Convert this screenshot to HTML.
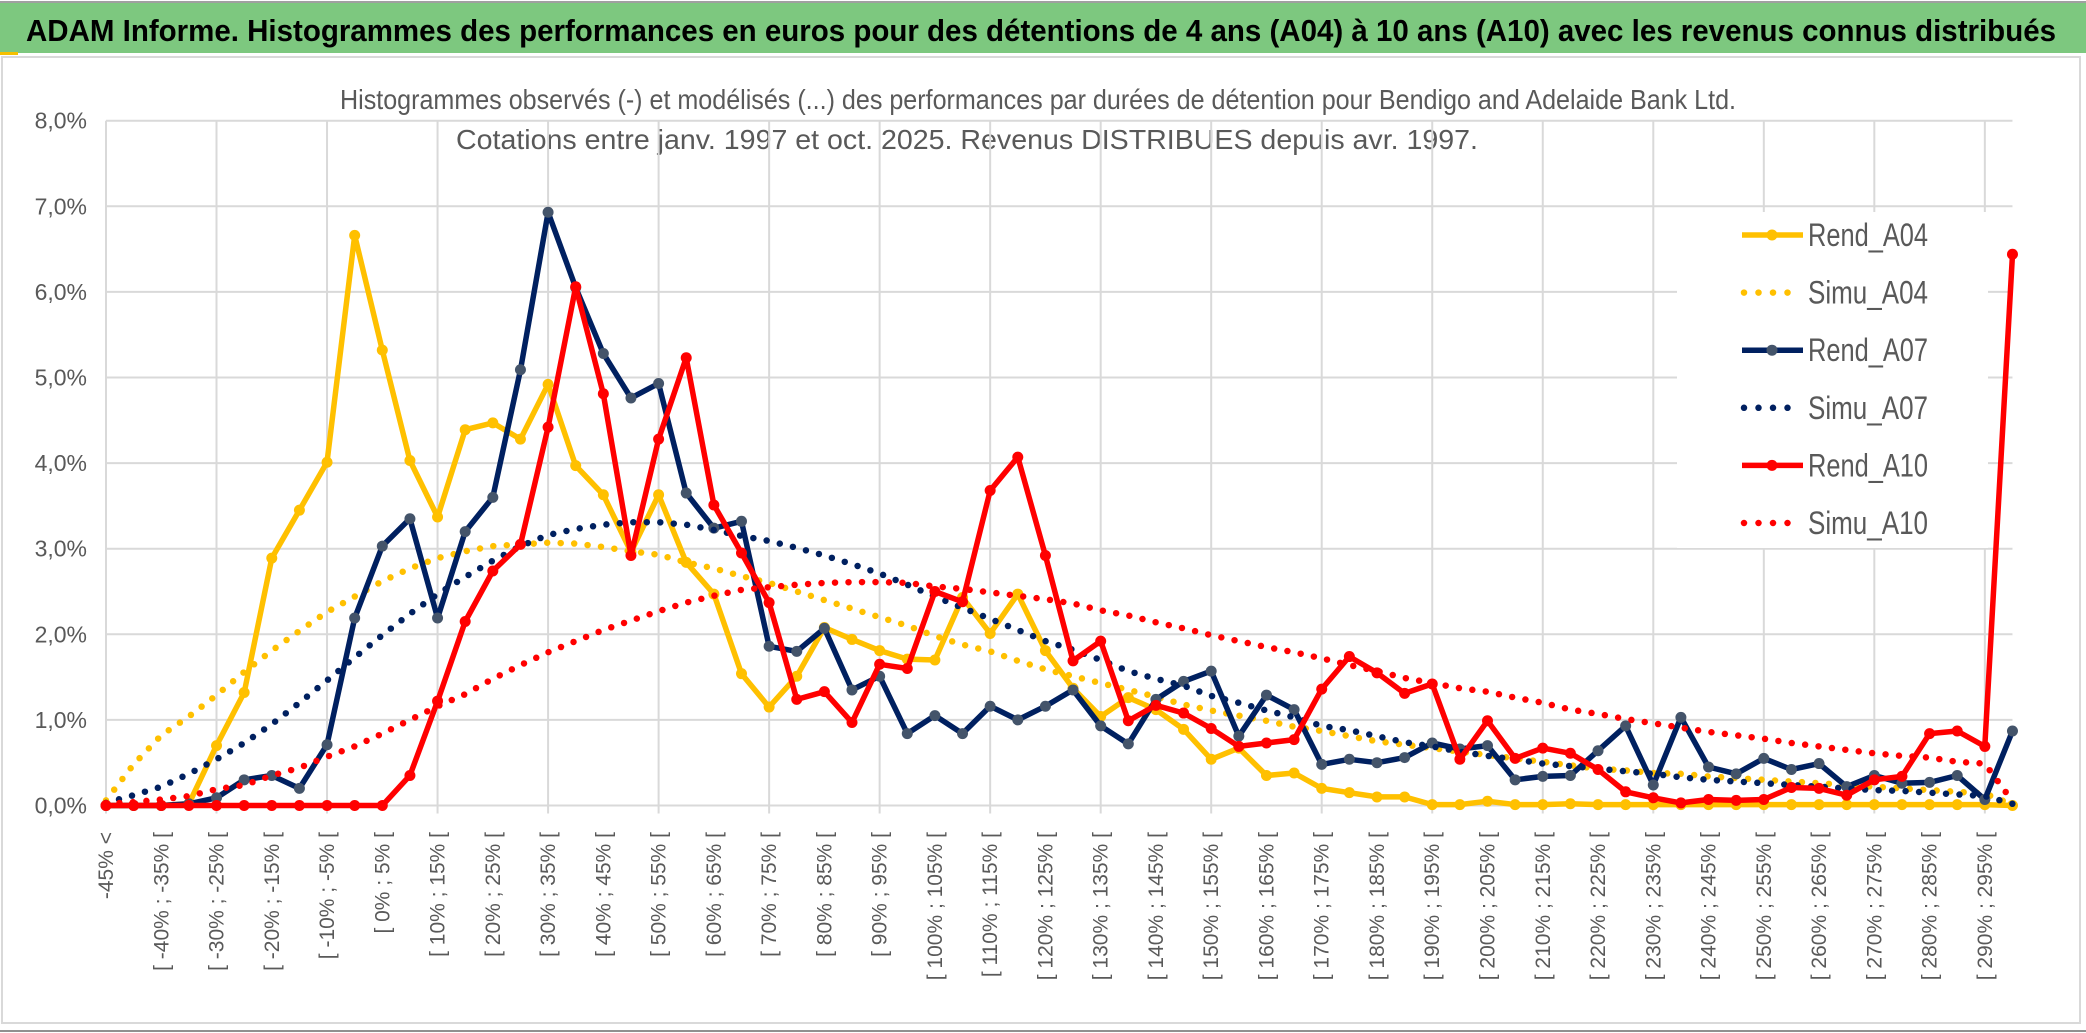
<!DOCTYPE html>
<html><head><meta charset="utf-8">
<style>
html,body{margin:0;padding:0;background:#fff;}
svg{display:block;}
text{font-family:"Liberation Sans",sans-serif;}
</style></head>
<body>
<svg id="chart" width="2086" height="1033" viewBox="0 0 2086 1033" xmlns="http://www.w3.org/2000/svg">
  <rect x="0" y="0" width="2086" height="1033" fill="#fff"/>
  <rect x="0" y="3" width="2086" height="50" fill="#7DC87F"/>
  <line x1="0" y1="2" x2="2086" y2="2" stroke="#A0A0A0" stroke-width="2"/>
  <rect x="0" y="52" width="18" height="3" fill="#F5C000"/>
  <rect x="2" y="57" width="2078" height="966" fill="none" stroke="#D9D9D9" stroke-width="2"/>
  <line x1="0" y1="1031" x2="2086" y2="1031" stroke="#909090" stroke-width="2"/>
  <text x="26" y="41" font-size="31" font-weight="bold" fill="#000" textLength="2030" lengthAdjust="spacingAndGlyphs">ADAM Informe. Histogrammes des performances en euros pour des détentions de 4 ans (A04) à 10 ans (A10) avec les revenus connus distribués</text>
  <text x="340" y="109" font-size="28" fill="#595959" textLength="1396" lengthAdjust="spacingAndGlyphs">Histogrammes observés (-) et modélisés (...) des performances par durées de détention pour Bendigo and Adelaide Bank Ltd.</text>
  <text x="456" y="149" font-size="28" fill="#595959" textLength="1022" lengthAdjust="spacingAndGlyphs">Cotations entre janv. 1997 et oct. 2025. Revenus DISTRIBUES depuis avr. 1997.</text>
  <g id="grid"></g>
  <g id="yaxis"></g>
  <g id="xaxis"></g>
  <g id="series"></g>
  <g id="legend"></g>
</svg>
<script>
const rendA04 = [0,0,0,0.02,0.70,1.32,2.89,3.45,4.01,6.66,5.32,4.03,3.37,4.39,4.47,4.28,4.92,3.97,
 3.63,2.96,3.63,2.84,2.47,1.54,1.15,1.51,2.08,1.94,1.81,1.71,1.70,2.43,2.01,2.47,1.81,1.37,
 1.04,1.26,1.12,0.89,0.54,0.67,0.35,0.38,0.20,0.15,0.10,0.10,0.01,0.01,0.05,0.01,0.01,
 0.02,0.01,0.01,0.01,0.01,0.01,0.01,0.01,0.01,0.01,0.01,0.01,0.01,0.01,0.01,0.01,0.0];
const simuA04 = [0.06,0.48,0.82,1.04,1.29,1.56,1.81,2.04,2.26,2.44,2.62,2.77,2.89,2.97,3.03,3.05,3.07,3.06,
 3.02,2.97,2.93,2.84,2.77,2.68,2.60,2.50,2.40,2.30,2.20,2.10,1.98,1.88,1.80,1.69,1.59,1.51,
 1.43,1.35,1.27,1.18,1.11,1.05,0.99,0.92,0.87,0.81,0.75,0.71,0.67,0.63,0.59,0.55,0.51,
 0.47,0.43,0.41,0.38,0.37,0.34,0.32,0.30,0.28,0.26,0.24,0.22,0.20,0.18,0.16,0.14,0.01];
const rendA07 = [0,0,0,0.02,0.09,0.30,0.35,0.20,0.71,2.19,3.03,3.35,2.19,3.20,3.60,5.09,6.93,6.05,
 5.28,4.76,4.93,3.65,3.24,3.32,1.86,1.80,2.07,1.35,1.51,0.84,1.05,0.84,1.16,1.00,1.16,1.35,
 0.93,0.72,1.24,1.45,1.57,0.81,1.29,1.12,0.48,0.54,0.50,0.56,0.73,0.66,0.70,0.30,0.34,
 0.35,0.64,0.93,0.24,1.03,0.45,0.37,0.55,0.42,0.49,0.22,0.35,0.26,0.27,0.35,0.07,0.87];
const simuA07 = [0.03,0.12,0.22,0.37,0.54,0.73,0.95,1.20,1.46,1.73,1.99,2.24,2.47,2.67,2.86,3.03,3.16,3.23,
 3.28,3.31,3.31,3.28,3.22,3.15,3.09,3.01,2.92,2.82,2.71,2.58,2.44,2.31,2.18,2.05,1.92,1.82,
 1.70,1.57,1.48,1.40,1.28,1.20,1.11,1.03,0.93,0.88,0.81,0.74,0.69,0.63,0.58,0.54,0.49,
 0.46,0.43,0.40,0.37,0.33,0.30,0.28,0.26,0.24,0.22,0.20,0.18,0.17,0.15,0.13,0.11,0.02];
const rendA10 = [0,0,0,0,0,0,0,0,0,0,0,0.35,1.22,2.15,2.74,3.05,4.42,6.06,
 4.81,2.92,4.28,5.23,3.51,2.95,2.37,1.24,1.33,0.97,1.65,1.60,2.50,2.38,3.68,4.07,2.92,1.69,
 1.92,0.99,1.17,1.08,0.90,0.69,0.73,0.77,1.36,1.74,1.55,1.31,1.42,0.54,0.99,0.55,0.67,
 0.61,0.42,0.16,0.09,0.03,0.07,0.06,0.07,0.21,0.20,0.12,0.30,0.34,0.84,0.87,0.69,6.44];
const simuA10 = [0.02,0.04,0.07,0.11,0.19,0.24,0.35,0.44,0.57,0.69,0.84,1.00,1.16,1.30,1.48,1.64,1.79,1.92,
 2.05,2.16,2.27,2.37,2.45,2.52,2.55,2.58,2.60,2.61,2.61,2.60,2.56,2.53,2.49,2.45,2.41,2.36,
 2.28,2.22,2.14,2.07,1.99,1.92,1.85,1.79,1.72,1.64,1.57,1.49,1.43,1.37,1.33,1.26,1.20,
 1.12,1.07,1.01,0.96,0.91,0.86,0.82,0.78,0.73,0.69,0.65,0.61,0.58,0.56,0.51,0.49,0.05];
const yTicks = [0,1,2,3,4,5,6,7,8];
const yTickLabels = ["0,0%","1,0%","2,0%","3,0%","4,0%","5,0%","6,0%","7,0%","8,0%"];
const categories = ["-45% <"];
for (let i = 1; i < 70; i++) { const a = -45 + 5*(i-1); categories.push("[ " + a + "% ; " + (a+5) + "% ["); }

const NS = "http://www.w3.org/2000/svg";
const X0 = 106, STEP = 27.63, Y0 = 805.5, YPER = 85.6;
function xs(i){ return X0 + i*STEP; }
function ys(v){ return Y0 - v*YPER; }
function mk(tag, attrs, parent){ const e = document.createElementNS(NS, tag); for (const k in attrs) e.setAttribute(k, attrs[k]); parent.appendChild(e); return e; }

const grid = document.getElementById('grid');
const plotRight = xs(categories.length - 1);
yTicks.forEach(function(t){
  const l = mk('line', {x1:X0, x2:plotRight, y1:ys(t), y2:ys(t), stroke:'#D9D9D9', 'stroke-width':2}, grid);
  
  
});
for (let i = 0; i < categories.length; i += 4) {
  const l = mk('line', {x1:xs(i), x2:xs(i), y1:ys(8), y2:Y0+8, stroke:'#D9D9D9', 'stroke-width':2}, grid);
  
  
}
const yaxis = document.getElementById('yaxis');
yTicks.forEach(function(t, k){
  const tx = mk('text', {x:87, y:ys(t)+8, 'font-size':23, fill:'#595959', 'text-anchor':'end'}, yaxis);
  tx.textContent = yTickLabels[k];
  
  
});
const xaxis = document.getElementById('xaxis');
for (let i = 0; i < categories.length - 1; i += 2) {
  const tx = mk('text', {x:0, y:0, 'font-size':21, fill:'#595959', 'text-anchor':'end',
    transform:'translate(' + (xs(i)+7) + ',832) rotate(-90)'}, xaxis);
  tx.textContent = categories[i];
  
  
}

const series = [
  {name:'Rend_A04', data:rendA04, color:'#FFC000', marker:'#FFC000', dotted:false},
  {name:'Simu_A04', data:simuA04, color:'#FFC000', dotted:true},
  {name:'Rend_A07', data:rendA07, color:'#002060', marker:'#44546A', dotted:false},
  {name:'Simu_A07', data:simuA07, color:'#002060', dotted:true},
  {name:'Rend_A10', data:rendA10, color:'#FF0000', marker:'#FF0000', dotted:false},
  {name:'Simu_A10', data:simuA10, color:'#FF0000', dotted:true}
];
const sg = document.getElementById('series');
series.forEach(function(s){
  const g = mk('g', {}, sg);
  
  
  const pts = s.data.map(function(v,i){ return xs(i).toFixed(1) + ',' + ys(v).toFixed(1); }).join(' ');
  if (s.dotted) {
    const p = mk('polyline', {points:pts, fill:'none', stroke:s.color, 'stroke-width':6.5, 'stroke-linecap':'round', 'stroke-dasharray':'0 13.5'}, g);
    
    
  } else {
    const p = mk('polyline', {points:pts, fill:'none', stroke:s.color, 'stroke-width':5.5, 'stroke-linejoin':'round'}, g);
    
    
    s.data.forEach(function(v,i){
      const c = mk('circle', {cx:xs(i), cy:ys(v), r:5.5, fill:s.marker}, g);
      
      
    });
  }
});

const lg = document.getElementById('legend');
mk('rect', {x:1677, y:212, width:311, height:336, fill:'#fff'}, lg);
series.forEach(function(s, k){
  const cy = 235 + k*57.6;
  const e = mk('g', {}, lg);
  
  
  if (s.dotted) {
    mk('line', {x1:1744, x2:1800, y1:cy, y2:cy, stroke:s.color, 'stroke-width':6.5, 'stroke-linecap':'round', 'stroke-dasharray':'0 14.5'}, e);
  } else {
    mk('line', {x1:1742, x2:1803, y1:cy, y2:cy, stroke:s.color, 'stroke-width':5.5}, e);
    mk('circle', {cx:1772, cy:cy, r:5.5, fill:s.marker}, e);
  }
  const t = mk('text', {x:1808, y:cy+11, 'font-size':32, fill:'#595959', textLength:120, lengthAdjust:'spacingAndGlyphs'}, e);
  t.textContent = s.name;
});
</script>
</body></html>
